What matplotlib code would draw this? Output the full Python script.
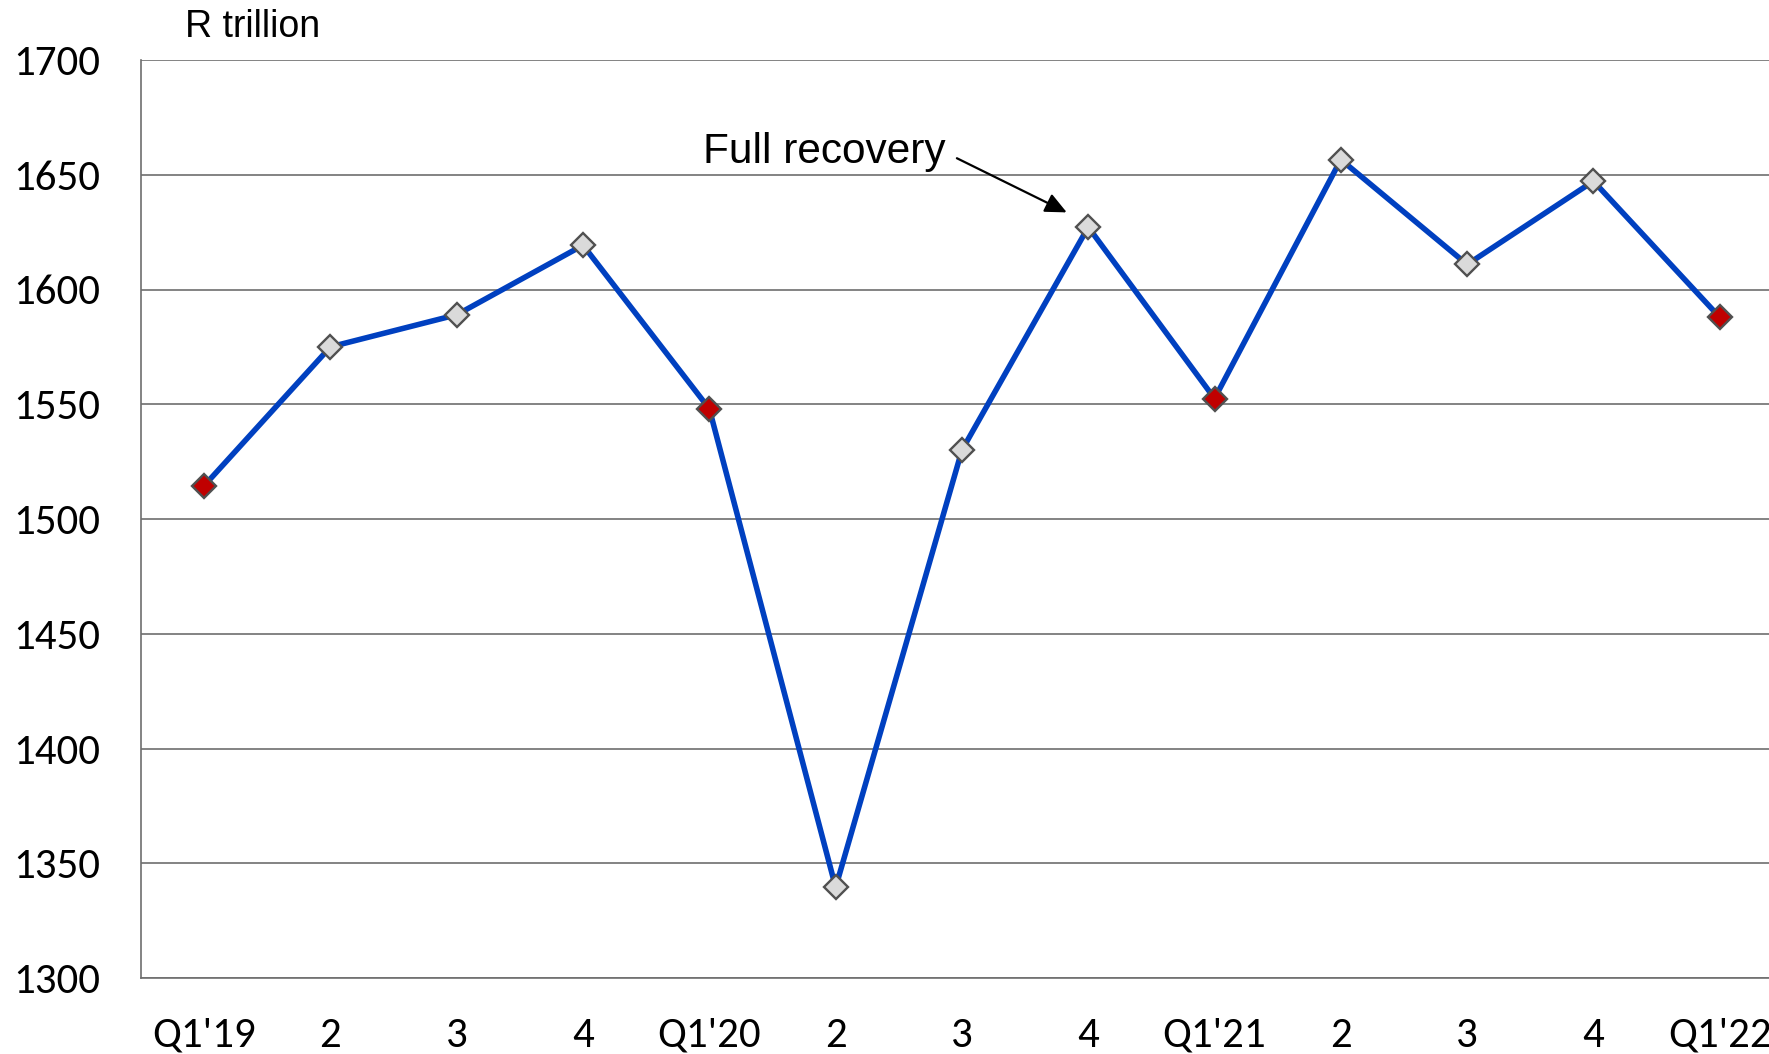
import matplotlib
matplotlib.use("Agg")
import matplotlib.pyplot as plt
from matplotlib import font_manager

# Quarterly values, R trillion
quarters = ["Q1'19", "2", "3", "4", "Q1'20", "2", "3", "4",
            "Q1'21", "2", "3", "4", "Q1'22"]
values = [1514.5, 1575, 1589, 1619.3, 1548, 1339.5, 1530,
          1627.2, 1552.5, 1656.6, 1610.9, 1647.2, 1587.9]
yticks = [1300, 1350, 1400, 1450, 1500, 1550, 1600, 1650, 1700]

# pick a narrow font for the tick labels if one is around
names = {f.name for f in font_manager.fontManager.ttflist}
tick_font = "DejaVu Sans"
for cand in ["Carlito", "Liberation Sans Narrow", "Roboto Condensed", "Open Sans Condensed"]:
    if cand in names:
        tick_font = cand
        break
label_font = "Liberation Sans" if "Liberation Sans" in names else "DejaVu Sans"

fig = plt.figure(figsize=(17.69, 10.54), dpi=100)
ax = fig.add_axes([141 / 1769, 1 - 978 / 1054, 1 - 141 / 1769, (978 - 60) / 1054])

x = list(range(len(quarters)))
ax.plot(x, values, color="#0040C0", lw=4, zorder=3)

is_q1 = [q.startswith("Q1") for q in quarters]
face = ["#C00000" if q else "#DADADA" for q in is_q1]
for xi, yi, fc in zip(x, values, face):
    ax.plot(xi, yi, marker="D", ms=12.5, mfc=fc, mec="#505050", mew=1.7,
            ls="none", zorder=4)

ax.set_xlim(-0.5, 12.39)
ax.set_ylim(1300, 1700)
ax.set_yticks(yticks)
ax.set_xticks(x)
ax.set_xticklabels(quarters)
ax.grid(axis="y", color="#6E6E6E", lw=1.2)
ax.set_axisbelow(True)

for s in ["top", "right"]:
    ax.spines[s].set_visible(False)
for s in ["left", "bottom"]:
    ax.spines[s].set_color("#6E6E6E")
    ax.spines[s].set_linewidth(1.2)

ax.tick_params(axis="y", length=0, pad=29, labelsize=31)
ax.tick_params(axis="x", length=0, pad=28, labelsize=31)
for lab in ax.get_xticklabels() + ax.get_yticklabels():
    lab.set_fontfamily(tick_font)

fig.text(185 / 1769, 1 - 37 / 1054, "R trillion", fontsize=27,
         family=label_font, va="baseline", ha="left")

ax.text(3.95, 1655, "Full recovery", fontsize=30.5, family=label_font,
        va="baseline", ha="left")
ax.annotate("", xy=(6.83, 1633.6), xytext=(5.96, 1657.2),
            arrowprops=dict(arrowstyle="-|>,head_length=0.65,head_width=0.3",
                            color="black", lw=1.6, mutation_scale=20,
                            shrinkA=0, shrinkB=0))

plt.savefig("out.png", dpi=100)
